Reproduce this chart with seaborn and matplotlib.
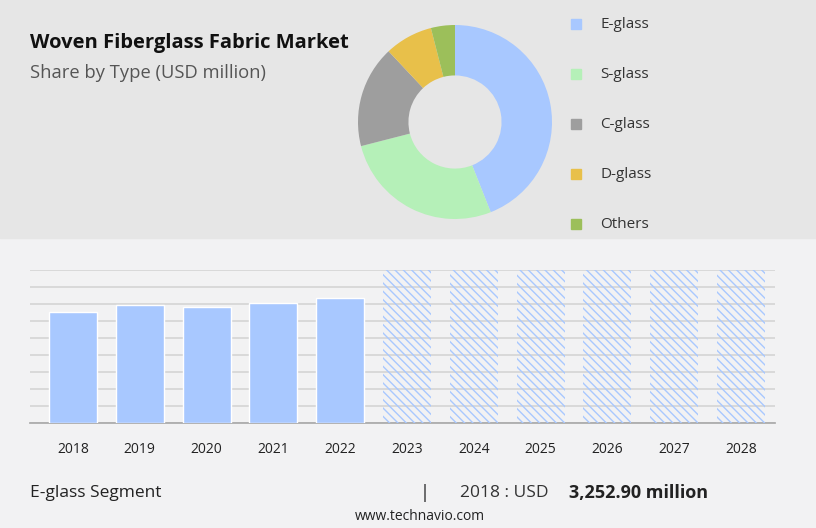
import matplotlib
matplotlib.use("Agg")
import matplotlib.pyplot as plt
from matplotlib.patches import Rectangle
import seaborn as sns
import pandas as pd

years = ["2018", "2019", "2020", "2021", "2022", "2023", "2024", "2025", "2026", "2027", "2028"]
history = [3252.9, 3458, 3400, 3517, 3663]
types = ["E-glass", "S-glass", "C-glass", "D-glass", "Others"]
shares = [44, 27, 17, 8, 4]
colors = ["#a8c8ff", "#b5f0b8", "#9e9e9e", "#e8c04a", "#9cbf5a"]

sns.set_theme(style="white")
plt.rcParams['font.family'] = ['Open Sans', 'DejaVu Sans']
plt.rcParams['hatch.linewidth'] = 1.0

W, H = 816, 528
fig = plt.figure(figsize=(W / 100, H / 100), dpi=100)
fig.patch.set_facecolor("#f2f2f3")
fig.add_artist(Rectangle((0, 1 - 238 / H), 1, 238 / H, transform=fig.transFigure,
                         color="#e6e6e6", zorder=0))

fig.text(30 / W, 1 - 43 / H, "Woven Fiberglass Fabric Market", fontsize=14.5,
         fontweight="bold", color="#111111", va="center")
fig.text(30 / W, 1 - 73 / H, "Share by Type (USD million)", fontsize=13.2,
         color="#555555", va="center")

# donut
r = 97
axp = fig.add_axes([(455 - r) / W, 1 - (122 + r) / H, 2 * r / W, 2 * r / H])
axp.pie(shares, colors=colors, startangle=90, counterclock=False, radius=1,
        wedgeprops=dict(width=0.52, edgecolor="none"))
axp.set_xlim(-1, 1)
axp.set_ylim(-1, 1)
axp.set_aspect("equal")

for i, (t, c) in enumerate(zip(types, colors)):
    y = 1 - (24 + 50 * i) / H
    fig.patches.append(Rectangle((571 / W, y - 5 / H), 10 / W, 10 / H,
                                 transform=fig.transFigure, color=c))
    fig.text(600 / W, y, t, fontsize=11, color="#333333", va="center")

# bars
ax = fig.add_axes([30 / W, 1 - 423 / H, 745 / W, 153 / H])
ax.set_facecolor("#f2f2f3")
step = 498
top = step * 9
df = pd.DataFrame({"year": years[:5], "value": history})
sns.barplot(data=df, x="year", y="value", order=years, color="#a8c8ff",
            saturation=1, width=0.72, ax=ax, zorder=3)
for i in range(5, len(years)):
    ax.bar(i, top, width=0.72, facecolor="none", edgecolor="#a8c8ff",
           hatch="\\\\\\\\", linewidth=0, zorder=3)
ax.set_ylim(0, top)
ax.set_xlim(-0.644, 10.51)
ax.set_yticks([step * k for k in range(10)])
ax.yaxis.grid(True, color="#d4d4d4", linewidth=1.2, zorder=0)
ax.set_axisbelow(True)
ax.set_yticklabels([])
ax.tick_params(left=False, bottom=False, axis="x", labelsize=10, colors="#222222", pad=8)
ax.set_xlabel("")
ax.set_ylabel("")
for s in ["top", "right", "left"]:
    ax.spines[s].set_visible(False)
ax.spines["bottom"].set_color("#aaaaaa")

fig.text(30 / W, 1 - 493 / H, "E-glass Segment", fontsize=12.5, color="#222222", va="center")
fig.text(420 / W, 1 - 493 / H, "|", fontsize=13, color="#222222", va="center")
fig.text(460 / W, 1 - 493 / H, "2018 : USD ", fontsize=12.5, color="#333333", va="center")
fig.text(569 / W, 1 - 493 / H, "3,252.90 million", fontsize=13, fontweight="bold",
         color="#222222", va="center")
fig.text(420 / W, 1 - 516 / H, "www.technavio.com", fontsize=10, color="#222222",
         va="center", ha="center")

fig.savefig("out.png", dpi=100, facecolor=fig.get_facecolor())
